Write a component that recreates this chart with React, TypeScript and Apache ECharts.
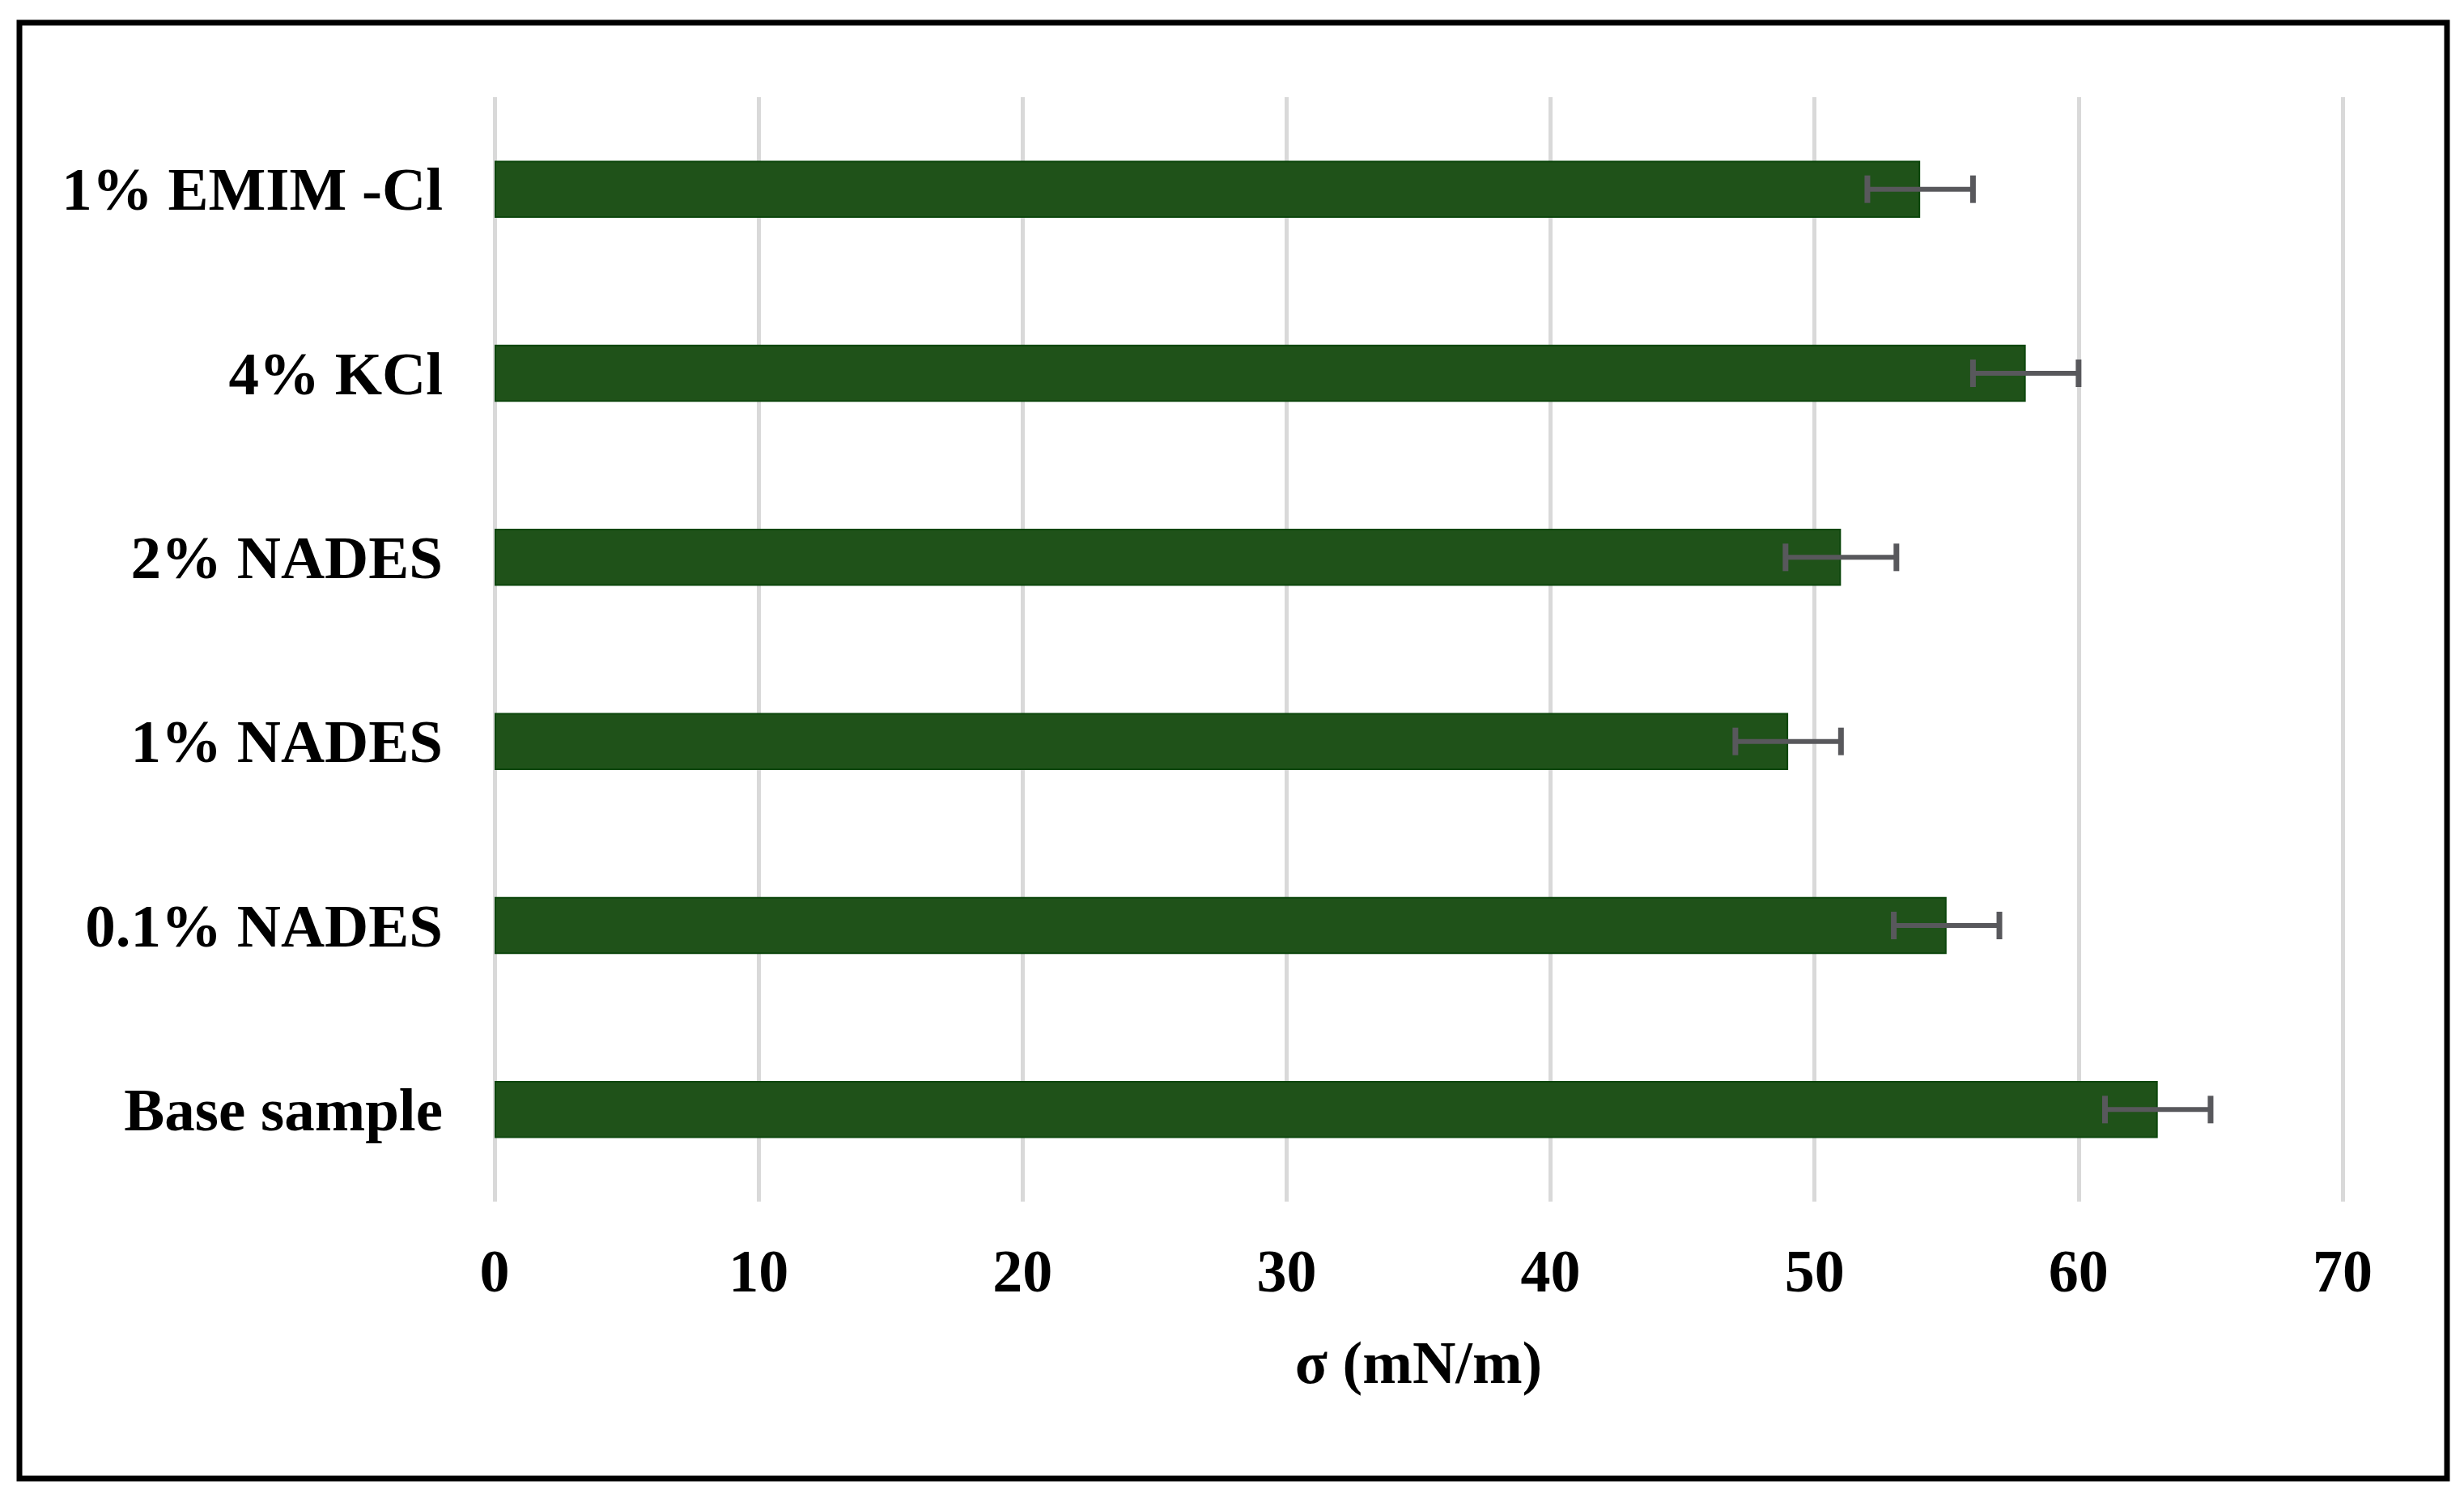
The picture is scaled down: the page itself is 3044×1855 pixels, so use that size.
import { useEffect, useRef } from 'react';
import * as echarts from 'echarts';

// top to bottom, as in the figure
const categories = ['1% EMIM -Cl', '4% KCl', '2% NADES', '1% NADES', '0.1% NADES', 'Base sample'];
const tension = [54, 58, 51, 49, 55, 63];
const tensionErr = [2, 2, 2.1, 2, 2, 2];
const xTicks = [0, 10, 20, 30, 40, 50, 60, 70];

const serif = '"Liberation Serif", "Times New Roman", serif';

export default function App() {
  const chartRef = useRef<HTMLDivElement>(null);

  useEffect(() => {
    if (!chartRef.current) return;
    const chart = echarts.init(chartRef.current, undefined, { renderer: 'svg' });

    const errData = tension.map((v, i) => [i, v - tensionErr[i], v + tensionErr[i]]);

    const option: echarts.EChartsOption = {
      animation: false,
      backgroundColor: '#fff',
      grid: { left: 611, right: 150, top: 120, bottom: 371 },
      xAxis: {
        type: 'value',
        min: xTicks[0],
        max: xTicks[xTicks.length - 1],
        interval: 10,
        name: 'σ (mN/m)',
        nameLocation: 'middle',
        nameGap: 162,
        nameTextStyle: { fontFamily: serif, fontWeight: 'bold', fontSize: 74, color: '#000' },
        axisLine: { show: false },
        axisTick: { show: false },
        axisLabel: { fontFamily: serif, fontWeight: 'bold', fontSize: 74, color: '#000', margin: 49 },
        splitLine: { show: true, lineStyle: { color: '#d9d9d9', width: 5 } }
      },
      yAxis: {
        type: 'category',
        data: categories,
        inverse: true,
        axisLine: { show: false },
        axisTick: { show: false },
        axisLabel: { fontFamily: serif, fontWeight: 'bold', fontSize: 75, color: '#000', margin: 64 }
      },
      series: [
        {
          type: 'bar',
          data: tension,
          barWidth: '31%',
          itemStyle: { color: '#1f5219', borderColor: '#0c460c', borderWidth: 2 }
        },
        {
          type: 'custom',
          data: errData,
          encode: { x: [1, 2], y: 0 },
          z: 5,
          renderItem: (params: any, api: any) => {
            const cat = api.value(0);
            const lo = api.coord([api.value(1), cat]);
            const hi = api.coord([api.value(2), cat]);
            const h = 17;
            const style = { stroke: '#58585c', lineWidth: 6 };
            return {
              type: 'group',
              children: [
                { type: 'line', shape: { x1: lo[0], y1: lo[1], x2: hi[0], y2: hi[1] }, style },
                { type: 'line', shape: { x1: lo[0], y1: lo[1] - h, x2: lo[0], y2: lo[1] + h }, style: { ...style, lineWidth: 7 } },
                { type: 'line', shape: { x1: hi[0], y1: hi[1] - h, x2: hi[0], y2: hi[1] + h }, style: { ...style, lineWidth: 7 } }
              ]
            };
          }
        }
      ],
      graphic: [
        {
          type: 'rect',
          shape: { x: 24, y: 28, width: 2999, height: 1798 },
          style: { fill: 'none', stroke: '#000', lineWidth: 7 },
          z: 10
        }
      ]
    };

    chart.setOption(option);
    return () => chart.dispose();
  }, []);

  return (
    <div
      ref={chartRef}
      style={{ position: 'absolute', left: 0, top: 0, width: 3044, height: 1855, background: '#fff' }}
    />
  );
}
